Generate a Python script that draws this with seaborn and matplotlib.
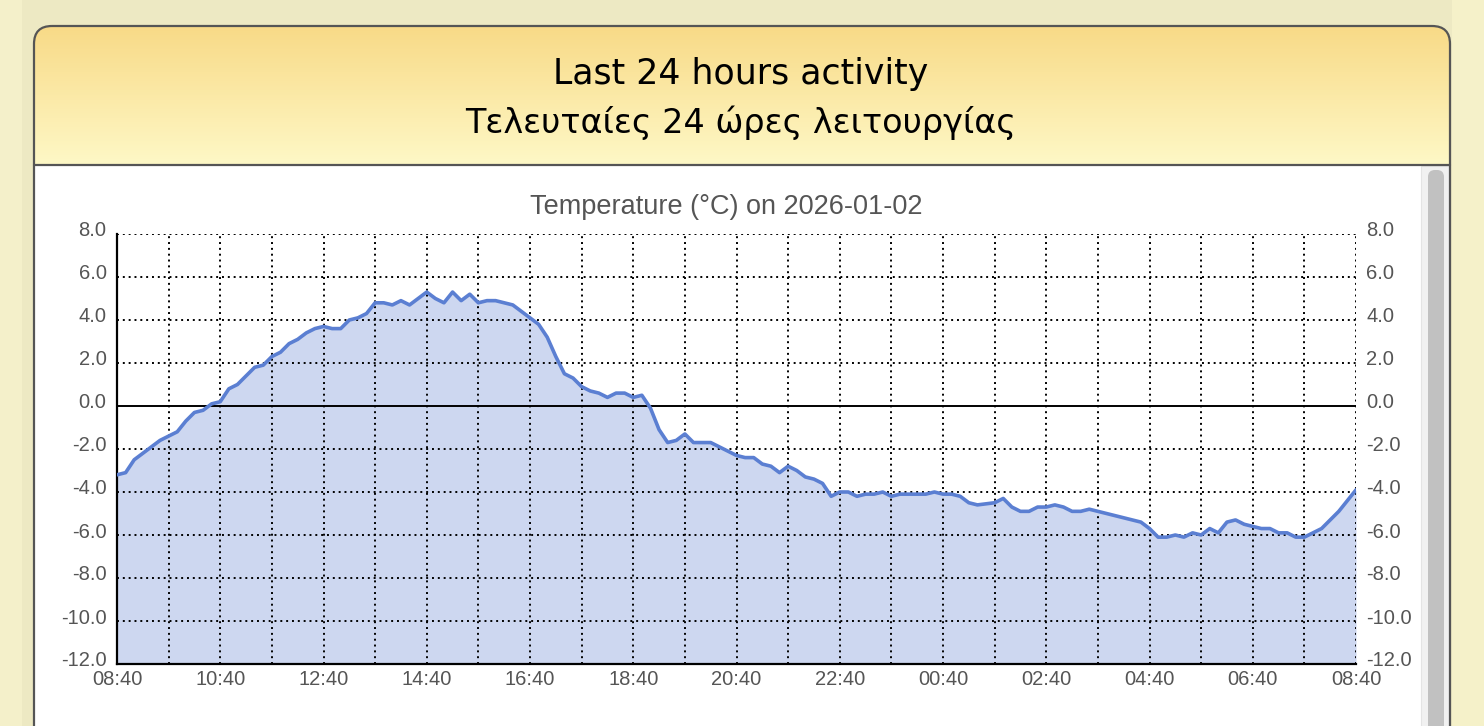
import numpy as np
import pandas as pd
import matplotlib
matplotlib.use('Agg')
import matplotlib.pyplot as plt
import matplotlib.dates as mdates
from matplotlib.patches import FancyBboxPatch, Rectangle
from matplotlib.transforms import ScaledTranslation
import seaborn as sns

# data (time of reading, temperature in C)
times = ["08:40", "08:50",
         "09:00", "09:10", "09:20", "09:30", "09:40", "09:50",
         "10:00", "10:10", "10:20", "10:30", "10:40", "10:50",
         "11:00", "11:10", "11:20", "11:30", "11:40", "11:50",
         "12:00", "12:10", "12:20", "12:30", "12:40", "12:50",
         "13:00", "13:10", "13:20", "13:30", "13:40", "13:50",
         "14:00", "14:10", "14:20", "14:30", "14:40", "14:50",
         "15:00", "15:10", "15:20", "15:30", "15:40", "15:50",
         "16:00", "16:10", "16:20", "16:30", "16:40", "16:50",
         "17:00", "17:10", "17:20", "17:30", "17:40", "17:50",
         "18:00", "18:10", "18:20", "18:30", "18:40", "18:50",
         "19:00", "19:10", "19:20", "19:30", "19:40", "19:50",
         "20:00", "20:10", "20:20", "20:30", "20:40", "20:50",
         "21:00", "21:10", "21:20", "21:30", "21:40", "21:50",
         "22:00", "22:10", "22:20", "22:30", "22:40", "22:50",
         "23:00", "23:10", "23:20", "23:30", "23:40", "23:50",
         "00:00", "00:10", "00:20", "00:30", "00:40", "00:50",
         "01:00", "01:10", "01:20", "01:40", "01:50",
         "02:00", "02:10", "02:20", "02:30", "02:40", "02:50",
         "03:00", "03:10", "03:20", "03:30", "03:40", "03:50",
         "04:30", "04:40", "04:50",
         "05:00", "05:10", "05:20", "05:30", "05:40", "05:50",
         "06:00", "06:10", "06:20", "06:30", "06:40", "06:50",
         "07:00", "07:10", "07:20", "07:30", "07:40", "07:50",
         "08:00", "08:10", "08:20", "08:30", "08:40"]
temps = [-3.2, -3.1,
         -2.5, -2.2, -1.9, -1.6, -1.4, -1.2,
         -0.7, -0.3, -0.2, 0.1, 0.2, 0.8,
         1.0, 1.4, 1.8, 1.9, 2.3, 2.5,
         2.9, 3.1, 3.4, 3.6, 3.7, 3.6,
         3.6, 4.0, 4.1, 4.3, 4.8, 4.8,
         4.7, 4.9, 4.7, 5.0, 5.3, 5.0,
         4.8, 5.3, 4.9, 5.2, 4.8, 4.9,
         4.9, 4.8, 4.7, 4.4, 4.1, 3.8,
         3.2, 2.3, 1.5, 1.3, 0.9, 0.7,
         0.6, 0.4, 0.6, 0.6, 0.4, 0.5,
         -0.1, -1.1, -1.7, -1.6, -1.3, -1.7,
         -1.7, -1.7, -1.9, -2.1, -2.3, -2.4,
         -2.4, -2.7, -2.8, -3.1, -2.8, -3.0,
         -3.3, -3.4, -3.6, -4.2, -4.0, -4.0,
         -4.2, -4.1, -4.1, -4.0, -4.2, -4.1,
         -4.1, -4.1, -4.1, -4.0, -4.1, -4.1,
         -4.2, -4.5, -4.6, -4.5, -4.3,
         -4.7, -4.9, -4.9, -4.7, -4.7, -4.6,
         -4.7, -4.9, -4.9, -4.8, -4.9, -5.0,
         -5.4, -5.7, -6.1,
         -6.1, -6.0, -6.1, -5.9, -6.0, -5.7,
         -5.9, -5.4, -5.3, -5.5, -5.6, -5.7,
         -5.7, -5.9, -5.9, -6.1, -6.1, -5.9,
         -5.7, -5.3, -4.9, -4.4, -3.9]

y_ticks = [-12, -10, -8, -6, -4, -2, 0, 2, 4, 6, 8]
chart_title = "Temperature (°C) on 2026-01-02"
header_lines = ["Last 24 hours activity", "Τελευταίες 24 ώρες λειτουργίας"]

# build timestamps, rolling over midnight
start = pd.Timestamp("2026-01-01 08:40")
stamps = []
day = start.normalize()
prev = None
for t in times:
    ts = pd.Timestamp(f"{day.date()} {t}")
    if prev is not None and ts < prev:
        day = day + pd.Timedelta(days=1)
        ts = pd.Timestamp(f"{day.date()} {t}")
    stamps.append(ts)
    prev = ts
df = pd.DataFrame({"time": stamps, "temp": temps})
end = start + pd.Timedelta(hours=24)

sns.set_theme(style="white")
plt.rcParams['font.family'] = ['Liberation Sans', 'DejaVu Sans']

W, H = 1484, 726
fig = plt.figure(figsize=(W / 100, H / 100), dpi=100)
fig.patch.set_facecolor('#EDE9C3')

# page / panel decoration drawn in pixel coordinates
bg = fig.add_axes([0, 0, 1, 1], zorder=-5)
bg.set_xlim(0, W)
bg.set_ylim(H, 0)
bg.axis('off')
bg.add_patch(Rectangle((0, 0), 22, H, facecolor='#F4F0CA', edgecolor='none', zorder=0))
bg.add_patch(Rectangle((1452, 0), 32, H, facecolor='#F5F1C9', edgecolor='none', zorder=0))
panel = FancyBboxPatch((34, 26), 1416, 760, boxstyle="round,pad=0,rounding_size=18",
                       facecolor='white', edgecolor='none')
bg.add_patch(panel)
grad = np.linspace(0, 1, 256).reshape(-1, 1)
cmap = matplotlib.colors.LinearSegmentedColormap.from_list('hdr', ['#F8DA87', '#FEF8C6'])
im = bg.imshow(grad, cmap=cmap, extent=[34, 1450, 164, 26], aspect='auto', zorder=1)
im.set_clip_path(panel)
bg.add_patch(FancyBboxPatch((34, 26), 1416, 760, boxstyle="round,pad=0,rounding_size=18",
                            facecolor='none', edgecolor='#555555', linewidth=1.6, zorder=3))
bg.plot([34, 1450], [164.5, 164.5], color='#555555', lw=1.6, zorder=3)
# scrollbar
bg.add_patch(Rectangle((1421, 166), 28, 580, facecolor='#F1F1F1', edgecolor='#E4E4E4', lw=0.8, zorder=2))
bg.add_patch(FancyBboxPatch((1428, 170), 16, 580, boxstyle="round,pad=0,rounding_size=7",
                            facecolor='#C1C1C1', edgecolor='none', zorder=2))
for i, (line, size) in enumerate(zip(header_lines, [25, 24])):
    bg.text(741, 74 + i * 49, line, ha='center', va='center', fontsize=size,
            family=['DejaVu Sans'], color='black', zorder=4)
bg.text(726, 207, chart_title, ha='center', va='center', fontsize=19.5, color='#555555', zorder=4)

# main chart
ax = fig.add_axes([117 / W, 1 - 664 / H, (1356 - 117) / W, (664 - 234) / H])
ax.set_facecolor('none')
ax.fill_between(df["time"], df["temp"], -12, color='#CDD7F0', linewidth=0, zorder=1)
sns.lineplot(data=df, x="time", y="temp", ax=ax, color='#5B7FD2', linewidth=2.6, zorder=3)
ax.axhline(0, color='black', linewidth=1.4, zorder=2)

ax.set_xlim(start, end)
ax.set_ylim(-12, 8)
ax.set_yticks(y_ticks)
ax.yaxis.set_major_formatter(matplotlib.ticker.FormatStrFormatter('%.1f'))
major = pd.date_range(start, end, freq='2h')
minor = pd.date_range(start, end, freq='1h')
ax.set_xticks(major)
ax.set_xticks(minor, minor=True)
ax.xaxis.set_major_formatter(mdates.DateFormatter('%H:%M'))
ax.set_xlabel('')
ax.set_ylabel('')

dots = (0, (1, 2))
ax.grid(False)
for t in minor[1:]:
    ax.axvline(t, color='black', linewidth=1.4, linestyle=dots, zorder=2)
for v in y_ticks[1:]:
    if v != 0:
        ax.axhline(v, color='black', linewidth=1.4, linestyle=dots, zorder=2)

for side in ['top', 'right']:
    ax.spines[side].set_visible(False)
for side in ['left', 'bottom']:
    ax.spines[side].set_color('black')
    ax.spines[side].set_linewidth(1.6)

ax.tick_params(axis='both', which='both', length=0, labelsize=14.5, labelcolor='#555555')
ax.tick_params(axis='y', pad=7.5, labelright=True, right=False)
ax.tick_params(axis='x', pad=4.5)
shift = ScaledTranslation(0, 5 / 100, fig.dpi_scale_trans)
for t in ax.yaxis.get_major_ticks():
    t.label1.set_transform(t.label1.get_transform() + shift)
    t.label2.set_transform(t.label2.get_transform() + shift)

fig.savefig('out.png', dpi=100)
